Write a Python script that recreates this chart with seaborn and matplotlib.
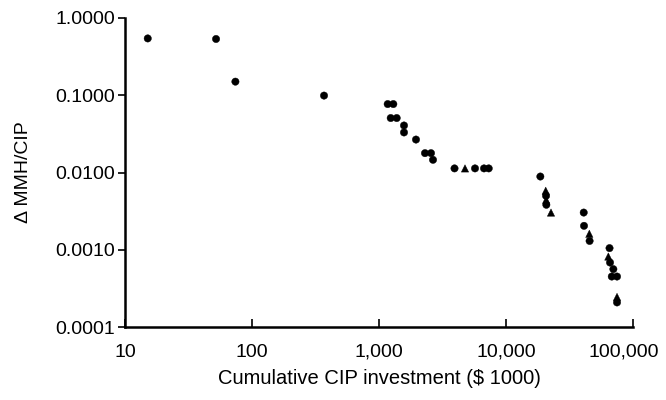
import matplotlib
matplotlib.use("Agg")
import matplotlib.pyplot as plt
import matplotlib.ticker as mticker
import matplotlib.transforms as mtransforms
import numpy as np
import pandas as pd
import seaborn as sns

# Cumulative CIP investment ($ 1000)
investment = [15.1, 52.1, 74, 369,
              1170, 1296, 1236, 1378, 1573, 1573, 1955, 2301, 2566, 2661,
              3930, 4753, 5699, 6710, 7310,
              18630, 20540, 20660, 20700, 20770, 22600,
              40900, 41120, 45270, 45500,
              65300, 63900, 65900, 70000, 68000, 74800, 74800, 74800]

# Change in MMH per unit CIP
mmh_per_cip = [0.544, 0.535, 0.150, 0.099,
               0.0769, 0.0769, 0.0507, 0.0507, 0.0406, 0.0330, 0.0267, 0.0178, 0.0178, 0.0146,
               0.0113, 0.0113, 0.0113, 0.0113, 0.0113,
               0.00887, 0.0058, 0.00499, 0.00443, 0.00382, 0.00303,
               0.00303, 0.00204, 0.00161, 0.00130,
               0.00105, 0.000817, 0.000683, 0.000561, 0.00045, 0.00045, 0.000245, 0.000208]

# Marker group of each observation
group = ["circle", "circle", "circle", "circle",
         "circle", "circle", "circle", "circle", "circle", "circle", "circle", "circle", "circle", "circle",
         "circle", "triangle", "circle", "circle", "circle",
         "circle", "triangle", "circle", "triangle", "circle", "triangle",
         "circle", "circle", "triangle", "circle",
         "circle", "triangle", "circle", "circle", "circle", "circle", "triangle", "circle"]

x_ticks = [10, 100, 1000, 10000, 100000]
x_tick_labels = ["10", "100", "1,000", "10,000", "100,000"]
y_ticks = [0.0001, 0.001, 0.01, 0.1, 1.0]
y_tick_labels = ["0.0001", "0.0010", "0.0100", "0.1000", "1.0000"]

df = pd.DataFrame({"investment": investment, "ratio": mmh_per_cip, "group": group})

sns.set_theme(style="white")
plt.rcParams["font.family"] = ["Liberation Sans", "DejaVu Sans"]

fig = plt.figure(figsize=(6.66, 4.0), dpi=100)
ax = fig.add_axes([0.1877, 0.1825, 0.7628, 0.7725])

sns.scatterplot(data=df, x="investment", y="ratio", style="group",
                markers={"circle": "o", "triangle": "^"},
                color="black", s=28, edgecolor="black", linewidth=0.3,
                legend=False, ax=ax)

ax.set_xscale("log")
ax.set_yscale("log")
ax.set_xlim(10, 100000)
ax.set_ylim(0.0001, 1.0)

ax.xaxis.set_major_locator(mticker.FixedLocator(x_ticks))
ax.xaxis.set_major_formatter(mticker.FixedFormatter(x_tick_labels))
ax.xaxis.set_minor_locator(mticker.NullLocator())
ax.yaxis.set_major_locator(mticker.FixedLocator(y_ticks))
ax.yaxis.set_major_formatter(mticker.FixedFormatter(y_tick_labels))
ax.yaxis.set_minor_locator(mticker.NullLocator())

ax.tick_params(axis="x", direction="in", length=6, width=1.2, pad=12,
               labelsize=14, colors="black", bottom=True)
ax.tick_params(axis="y", direction="out", length=5, width=1.2, pad=2,
               labelsize=14, colors="black", left=True)

for side in ("top", "right"):
    ax.spines[side].set_visible(False)
for side in ("left", "bottom"):
    ax.spines[side].set_color("black")
    ax.spines[side].set_linewidth(1.8)

ax.set_xlabel("Cumulative CIP investment ($ 1000)", fontsize=14.5, labelpad=6, color="black")
ax.set_ylabel("Δ MMH/CIP", fontsize=14, labelpad=17, color="black")
ax.grid(False)

# Pull the last x tick label slightly inward so it stays on the canvas
fig.canvas.draw()
last = ax.xaxis.get_majorticklabels()[-1]
last.set_transform(last.get_transform() +
                   mtransforms.ScaledTranslation(-7 / 72, 0, fig.dpi_scale_trans))

fig.savefig("out.png", dpi=100, facecolor="white")
